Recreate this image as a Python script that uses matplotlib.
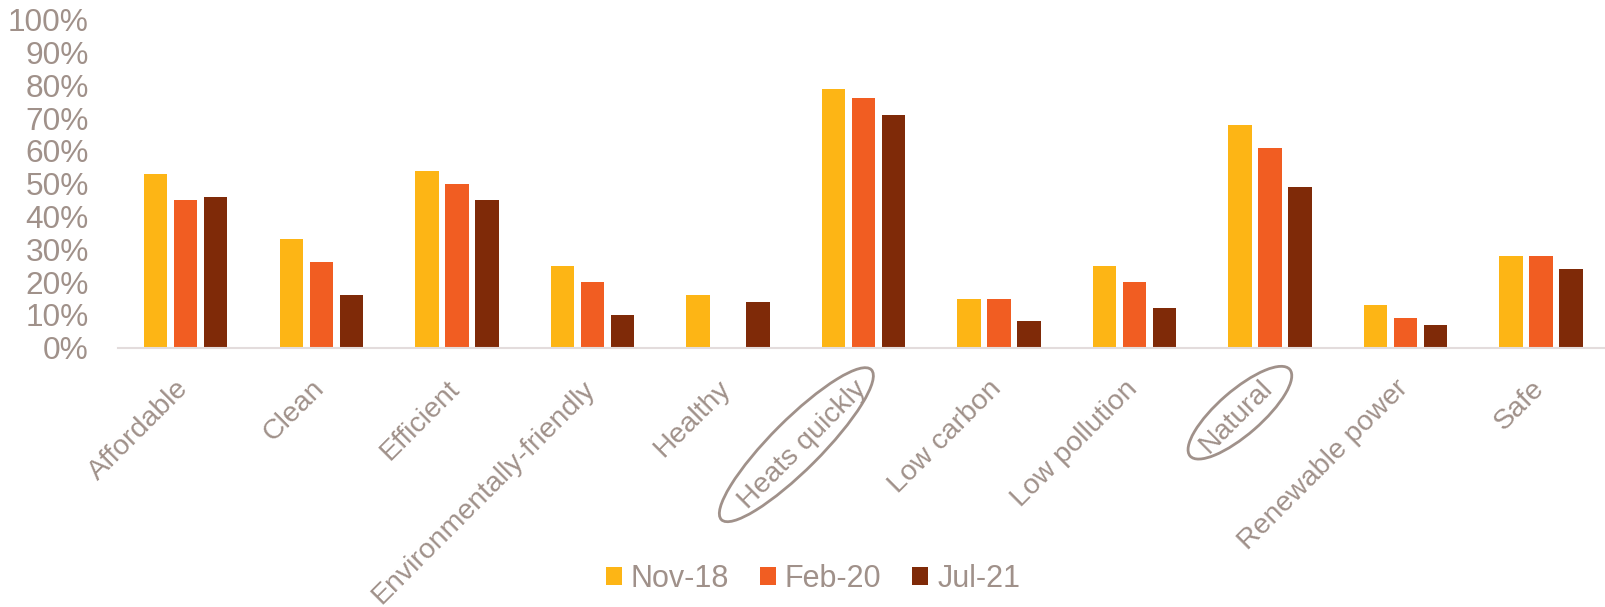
import numpy as np
import matplotlib as mpl
mpl.use("Agg")
import matplotlib.pyplot as plt
from matplotlib.patches import Ellipse
from matplotlib.transforms import IdentityTransform, ScaledTranslation
from matplotlib.ticker import PercentFormatter

mpl.rcParams.update({"font.family": ["Liberation Sans", "DejaVu Sans"]})

categories = ["Affordable", "Clean", "Efficient", "Environmentally-friendly", "Healthy",
              "Heats quickly", "Low carbon", "Low pollution", "Natural",
              "Renewable power", "Safe"]
series = ["Nov-18", "Feb-20", "Jul-21"]
nov18 = [53, 33, 54, 25, 16, 79, 15, 25, 68, 13, 28]
feb20 = [45, 26, 50, 20, 0, 76, 15, 20, 61, 9, 28]
jul21 = [46, 16, 45, 10, 14, 71, 8, 12, 49, 7, 24]
circled = ["Heats quickly", "Natural"]

colors = ["#FDB515", "#F15D22", "#7F2A08"]
txt = "#A0918A"

fig = plt.figure(figsize=(16.06, 6.07), dpi=100)
ax = fig.add_axes([118/1606, 259.3/607, (1606-118)/1606, 328/607])

x = np.arange(len(categories))
step, w = 0.2214, 0.173
for k, (vals, name) in enumerate(zip([nov18, feb20, jul21], series)):
    ax.bar(x + (k-1)*step, np.array(vals)/100, w, color=colors[k], label=name)

ax.set_xlim(-0.5, 10.48)
ax.set_ylim(0, 1)
ax.set_yticks(np.arange(0, 1.01, 0.1))
ax.yaxis.set_major_formatter(PercentFormatter(1.0, decimals=0))
ax.set_xticks(x)
ax.set_xticklabels(categories, rotation=45, ha="right", rotation_mode="default")
ax.tick_params(axis="y", length=0, pad=21, labelsize=22.8, labelcolor=txt)
ax.tick_params(axis="x", length=0, pad=20, labelsize=20.5, labelcolor=txt)
shift = ScaledTranslation(8/100, 0, fig.dpi_scale_trans)
for lab in ax.get_xticklabels():
    lab.set_transform(lab.get_transform() + shift)
for s in ("top", "right", "left"):
    ax.spines[s].set_visible(False)
ax.spines["bottom"].set_color("#E3DCDC")
ax.spines["bottom"].set_linewidth(1.5)

# ellipses around highlighted labels, placed relative to the tick position
fig.canvas.draw()
offs = {"Heats quickly": (-67, -97, 212, 50, 45), "Natural": (-30, -65, 132, 44, 41)}
for name in circled:
    i = categories.index(name)
    px, py = ax.transData.transform((i, 0))
    dx, dy, ew, eh, ang = offs[name]
    fig.patches.append(Ellipse((px + dx, py + dy), ew, eh, angle=ang, fill=False,
                               edgecolor=txt, linewidth=2, transform=IdentityTransform(),
                               figure=fig))

h, l = ax.get_legend_handles_labels()
fig.legend(h, l, loc="center", bbox_to_anchor=(813/1606, 28/607), ncol=3, frameon=False,
           fontsize=22, labelcolor=txt, handlelength=0.52, handleheight=0.52,
           handletextpad=0.3, columnspacing=1.0)

fig.savefig("out.png", dpi=100)
